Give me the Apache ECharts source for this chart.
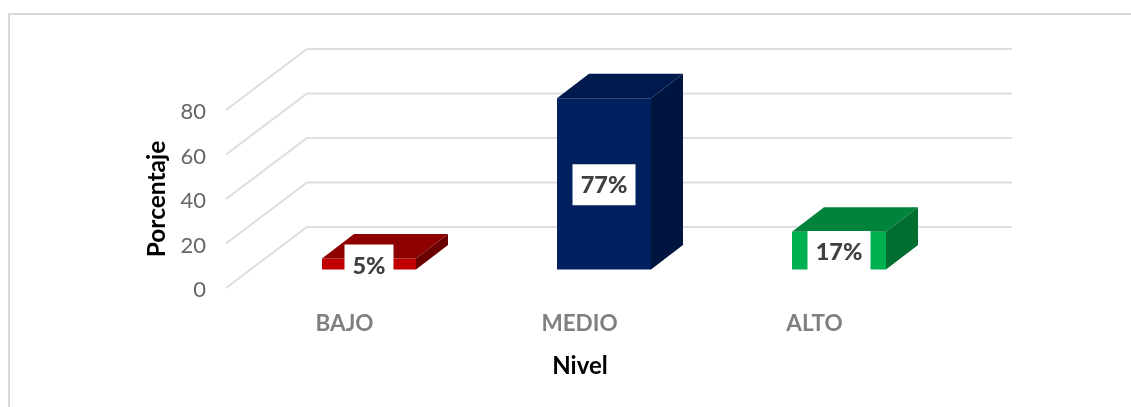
<!DOCTYPE html>
<html>
<head>
<meta charset="utf-8">
<style>html,body{margin:0;padding:0;background:#fff}#chart{width:1131px;height:407px}</style>
<script src="https://cdn.jsdelivr.net/npm/echarts@6/dist/echarts.min.js"></script>
</head>
<body>
<div id="chart"></div>
<script>
const niveles = ['BAJO', 'MEDIO', 'ALTO'];
const porcentajes = [5, 77, 17];
const marcasEje = [0, 20, 40, 60, 80];

const caraFrontal = ['#C00000', '#002060', '#00B050'];
const caraSuperior = ['#8F0000', '#001A4E', '#00843C'];
const caraLateral = ['#6B0000', '#001440', '#006E31'];

// Oblique projection: depth of the floor and of each box, in pixels
const FONDO_X = 81, FONDO_Y = 61;
const CAJA_X = 32, CAJA_Y = 24.5;
const DESPL_X = 25.5, DESPL_Y = 18.5;

const fuente = 'Lato, "Open Sans", sans-serif';

// Wall and side gridlines: one bent line per axis tick
function dibujarRejilla(params, api) {
  const p = api.coord([0, api.value(1)]);
  const banda = api.size([1, 0])[0];
  const x0 = p[0] - banda / 2;
  const x1 = x0 + banda * niveles.length;
  return {
    type: 'polyline',
    shape: { points: [[x0, p[1]], [x0 + FONDO_X, p[1] - FONDO_Y], [x1 + FONDO_X, p[1] - FONDO_Y]] },
    style: { fill: null, stroke: '#DEDEDE', lineWidth: 2 },
    silent: true
  };
}

// A box standing on the floor, with its percentage tag on the front face
function dibujarCaja(params, api) {
  const i = api.value(0), v = api.value(1);
  const cima = api.coord([i, v]);
  const base = api.coord([i, 0]);
  const ancho = api.size([1, 0])[0] * 0.4;
  const xi = cima[0] - ancho / 2 + DESPL_X, xd = xi + ancho;
  const ya = cima[1] - DESPL_Y, yb = base[1] - DESPL_Y;
  const cara = (pts, fill) => ({ type: 'polygon', shape: { points: pts }, style: { fill } });
  const cx = (xi + xd) / 2, cy = (ya + yb) / 2 + 1;
  const anchoEtiqueta = v < 10 ? 49 : 63;
  return {
    type: 'group',
    children: [
      cara([[xi, ya], [xd, ya], [xd, yb], [xi, yb]], caraFrontal[i]),
      cara([[xi, ya], [xi + CAJA_X, ya - CAJA_Y], [xd + CAJA_X, ya - CAJA_Y], [xd, ya]], caraSuperior[i]),
      cara([[xd, ya], [xd + CAJA_X, ya - CAJA_Y], [xd + CAJA_X, yb - CAJA_Y], [xd, yb]], caraLateral[i]),
      { type: 'rect', shape: { x: cx - anchoEtiqueta / 2, y: cy - 20.5, width: anchoEtiqueta, height: 41 }, style: { fill: '#fff' } },
      { type: 'text', x: cx, y: cy + 1, style: { text: v + '%', align: 'center', verticalAlign: 'middle', fill: '#404040', font: '900 23.5px ' + fuente } }
    ]
  };
}

const chart = echarts.init(document.getElementById('chart'), null, { renderer: 'canvas' });
chart.setOption({
  animation: false,
  backgroundColor: '#fff',
  grid: { left: 226, right: 200, top: 110, bottom: 119 },
  graphic: [{
    type: 'polyline', silent: true,
    shape: { points: [[9, 407], [9, 14], [1131, 14]] },
    style: { fill: null, stroke: '#D9D9D9', lineWidth: 2 }
  }],
  xAxis: {
    type: 'category', data: niveles,
    axisLine: { show: false }, axisTick: { show: false },
    axisLabel: { color: '#7F7F7F', fontFamily: fuente, fontWeight: 'bold', fontSize: 22.5, margin: 24, padding: [0, 0, 0, 2] },
    name: 'Nivel', nameLocation: 'middle', nameGap: 66,
    nameTextStyle: { color: '#000', fontFamily: fuente, fontWeight: 'bold', fontSize: 24, padding: [0, 0, 0, 3] }
  },
  yAxis: {
    type: 'value', min: 0, max: 80, interval: 20,
    axisLine: { show: false }, axisTick: { show: false }, splitLine: { show: false },
    axisLabel: {
      margin: 20,
      formatter: '{d|{value}}',
      rich: { d: { color: '#666', fontFamily: fuente, fontSize: 22, padding: [4, 0, 0, 0] } }
    },
    name: 'Porcentaje', nameLocation: 'middle', nameGap: 55,
    nameTextStyle: { color: '#000', fontFamily: fuente, fontWeight: 'bold', fontSize: 24.5 }
  },
  series: [
    { type: 'custom', z: 1, renderItem: dibujarRejilla, data: marcasEje.map(m => [0, m]), silent: true },
    { type: 'custom', z: 2, renderItem: dibujarCaja, data: porcentajes.map((v, i) => [i, v]), silent: true }
  ]
});
</script>
</body>
</html>
